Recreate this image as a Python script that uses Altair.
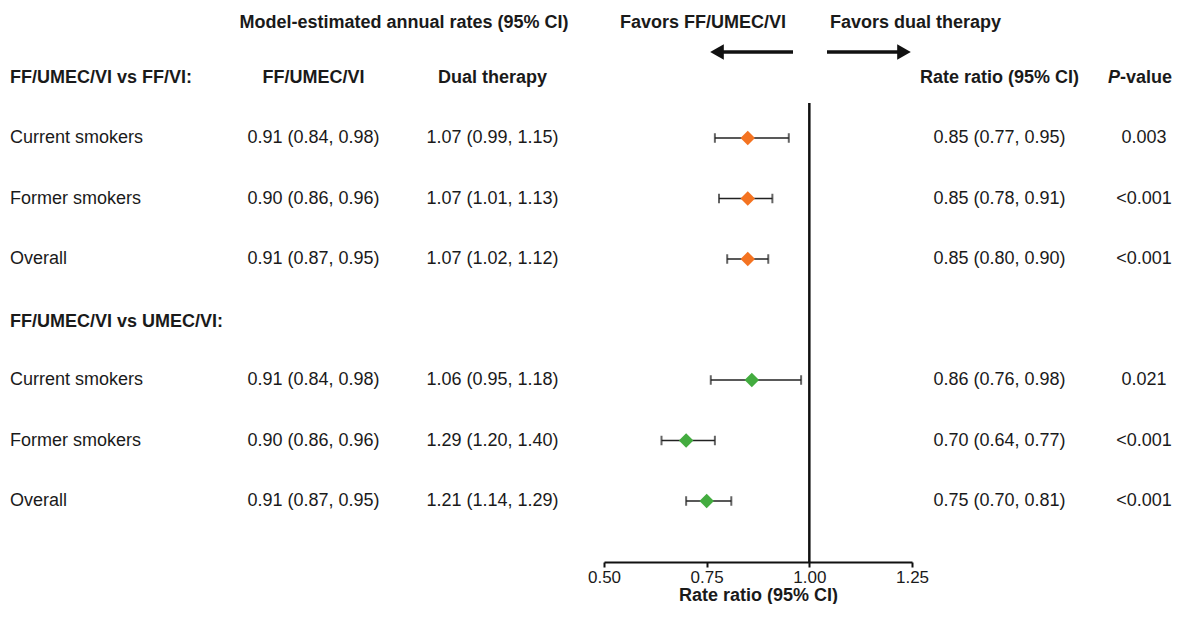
import altair as alt
import pandas as pd

# ---------------- data ----------------
subgroups = ["Current smokers", "Former smokers", "Overall",
             "Current smokers", "Former smokers", "Overall"]
comparison = ["FF/VI", "FF/VI", "FF/VI", "UMEC/VI", "UMEC/VI", "UMEC/VI"]
row_index = [0, 1, 2, 4, 5, 6]

triple_rate = [0.91, 0.90, 0.91, 0.91, 0.90, 0.91]
triple_lo = [0.84, 0.86, 0.87, 0.84, 0.86, 0.87]
triple_hi = [0.98, 0.96, 0.95, 0.98, 0.96, 0.95]

dual_rate = [1.07, 1.07, 1.07, 1.06, 1.29, 1.21]
dual_lo = [0.99, 1.01, 1.02, 0.95, 1.20, 1.14]
dual_hi = [1.15, 1.13, 1.12, 1.18, 1.40, 1.29]

rate_ratio = [0.85, 0.85, 0.85, 0.86, 0.70, 0.75]
rate_ratio_lo = [0.77, 0.78, 0.80, 0.76, 0.64, 0.70]
rate_ratio_hi = [0.95, 0.91, 0.90, 0.98, 0.77, 0.81]

p_values = ["0.003", "<0.001", "<0.001", "0.021", "<0.001", "<0.001"]

group_headers = ["FF/UMEC/VI vs FF/VI:", "FF/UMEC/VI vs UMEC/VI:"]
group_rows = [-1, 3.04]

column_headers = ["FF/UMEC/VI", "Dual therapy", "Rate ratio (95% CI)"]
top_titles = ["Model-estimated annual rates (95% CI)", "Favors FF/UMEC/VI", "Favors dual therapy"]

axis_ticks = [0.50, 0.75, 1.00, 1.25]
reference_value = [1.0]

# ---------------- tables ----------------
def fmt(e, l, h):
    return f"{e:.2f} ({l:.2f}, {h:.2f})"

df = pd.DataFrame({
    "subgroup": subgroups,
    "comparison": comparison,
    "row": row_index,
    "triple_txt": [fmt(*v) for v in zip(triple_rate, triple_lo, triple_hi)],
    "dual_txt": [fmt(*v) for v in zip(dual_rate, dual_lo, dual_hi)],
    "rr": rate_ratio,
    "rr_lo": rate_ratio_lo,
    "rr_hi": rate_ratio_hi,
    "rr_txt": [fmt(*v) for v in zip(rate_ratio, rate_ratio_lo, rate_ratio_hi)],
    "p": p_values,
})
hdr = pd.DataFrame({"label": group_headers, "row": group_rows})
ref = pd.DataFrame({"x": reference_value})

FONT = "Liberation Sans"
FS = 18
TXT = "#1a1a1a"
INK = "#111111"
AXIS_Y = 554

xscale = alt.Scale(domain=[0.5, 1.25], range=[596, 904])
yscale = alt.Scale(domain=[0, 6], range=[130, 493])
Y = alt.Y("row:Q", scale=yscale, axis=None)

base = alt.Chart(df)

def col_text(field, xpx, align="center"):
    return base.mark_text(font=FONT, fontSize=FS, color=TXT, align=align, baseline="middle").encode(
        x=alt.value(xpx), y=Y, text=f"{field}:N")

label_col = col_text("subgroup", 2, "left")
triple_col = col_text("triple_txt", 305.5)
dual_col = col_text("dual_txt", 484.5)
rr_col = col_text("rr_txt", 991.5)
p_col = col_text("p", 1136)

group_hdr = alt.Chart(hdr).mark_text(font=FONT, fontSize=FS, fontWeight="bold", color=TXT,
                                      align="left", baseline="middle").encode(
    x=alt.value(2), y=Y, text="label:N")

colhead = pd.DataFrame({"label": column_headers, "row": [-1, -1, -1]})
colhead_x = [305.5, 484.5, 991.5]
col_headers = [
    alt.Chart(colhead.iloc[[i]]).mark_text(font=FONT, fontSize=FS, fontWeight="bold",
                                           color=TXT, align="center", baseline="middle").encode(
        x=alt.value(colhead_x[i]), y=Y, text="label:N")
    for i in range(len(column_headers))
]
phead = pd.DataFrame({"a": ["P"], "b": ["-value"], "row": [-1]})
p_head1 = alt.Chart(phead).mark_text(font=FONT, fontSize=FS, fontWeight="bold", fontStyle="italic",
                                     color=TXT, align="right", baseline="middle").encode(
    x=alt.value(1112), y=Y, text="a:N")
p_head2 = alt.Chart(phead).mark_text(font=FONT, fontSize=FS, fontWeight="bold",
                                     color=TXT, align="left", baseline="middle").encode(
    x=alt.value(1112), y=Y, text="b:N")

top = pd.DataFrame({"t": top_titles})
top_x = [396, 695, 907.5]
top_texts = [
    alt.Chart(top.iloc[[i]]).mark_text(font=FONT, fontSize=FS, fontWeight="bold", color=TXT,
                                       align="center", baseline="middle").encode(
        x=alt.value(top_x[i]), y=alt.value(14.5), text="t:N")
    for i in range(3)
]

arrow_l = alt.Chart(ref).mark_rule(strokeWidth=3.5, color=INK).encode(
    x=alt.value(785), x2=alt.value(711), y=alt.value(44))
arrow_r = alt.Chart(ref).mark_rule(strokeWidth=3.5, color=INK).encode(
    x=alt.value(819), x2=alt.value(894), y=alt.value(44))
head_l = alt.Chart(ref).mark_point(shape="triangle-left", filled=True, opacity=1, size=246, color=INK).encode(
    x=alt.value(709), y=alt.value(44))
head_r = alt.Chart(ref).mark_point(shape="triangle-right", filled=True, opacity=1, size=246, color=INK).encode(
    x=alt.value(896), y=alt.value(44))

vline = alt.Chart(ref).mark_rule(strokeWidth=2.5, color=INK).encode(
    x=alt.X("x:Q", scale=xscale,
            axis=alt.Axis(values=axis_ticks, format=".2f", title="Rate ratio (95% CI)", grid=False,
                          labelFlush=False,
                          domainColor=INK, domainWidth=2, tickColor=INK, tickWidth=2, tickSize=5,
                          labelFont=FONT, labelFontSize=17, labelColor=TXT, labelPadding=2,
                          titleFont=FONT, titleFontSize=FS, titleFontWeight="bold", titleColor=TXT,
                          titlePadding=1)),
    y=alt.value(95), y2=alt.value(AXIS_Y))

color_scale = alt.Scale(domain=["FF/VI", "UMEC/VI"], range=["#F47321", "#43AC3F"])

ci = base.mark_rule(strokeWidth=1.5, color="#222").encode(
    x=alt.X("rr_lo:Q", scale=xscale), x2="rr_hi:Q", y=Y)
cap_lo = base.mark_tick(orient="vertical", size=9.5, thickness=2, color="#222").encode(
    x=alt.X("rr_lo:Q", scale=xscale), y=Y)
cap_hi = base.mark_tick(orient="vertical", size=9.5, thickness=2, color="#222").encode(
    x=alt.X("rr_hi:Q", scale=xscale), y=Y)
pts = base.mark_point(shape="diamond", filled=True, opacity=1, size=210).encode(
    x=alt.X("rr:Q", scale=xscale), y=Y,
    color=alt.Color("comparison:N", scale=color_scale, legend=None))

chart = alt.layer(
    vline, ci, cap_lo, cap_hi, pts,
    label_col, triple_col, dual_col, rr_col, p_col, group_hdr,
    *col_headers, p_head1, p_head2, *top_texts,
    arrow_l, arrow_r, head_l, head_r,
).properties(width=1166, height=AXIS_Y, padding=0, background="white").configure_view(stroke=None)

chart.save("out.html", embed_options={"renderer": "svg", "actions": False})
